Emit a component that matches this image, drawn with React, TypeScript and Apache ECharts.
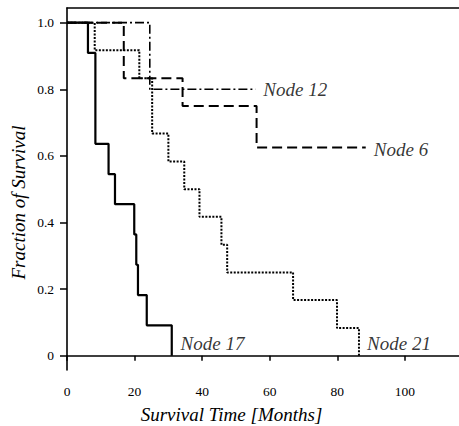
import React, { useEffect, useRef } from "react";
import * as echarts from "echarts";

const node17: [number, number][] = [
  [0, 1], [6.2, 0.909], [8.4, 0.636], [12.3, 0.545], [14.2, 0.455], [19.9, 0.364],
  [20.5, 0.273], [21.0, 0.182], [23.6, 0.091], [31.0, 0],
];
const node21: [number, number][] = [
  [0, 1], [8.2, 0.917], [21.4, 0.833], [25.2, 0.667], [30.0, 0.583], [34.7, 0.5],
  [39.2, 0.417], [45.7, 0.333], [47.4, 0.25], [66.9, 0.167], [79.9, 0.083], [86.4, 0],
];
const node12: [number, number][] = [[0, 1], [24.5, 0.8], [55.8, 0.8]];
const node6: [number, number][] = [[0, 1], [16.8, 0.833], [34.2, 0.75], [56.1, 0.625], [88.4, 0.625]];

const nodeLabels: [number, number, string][] = [
  [58.1, 0.8, "Node 12"],
  [90.8, 0.618, "Node 6"],
  [33.6, 0.038, "Node 17"],
  [88.8, 0.038, "Node 21"],
];

const xTicks = [0, 20, 40, 60, 80, 100];
const yTicks = [0, 0.2, 0.4, 0.6, 0.8, 1.0];
const xTitle = "Survival Time [Months]";
const yTitle = "Fraction of Survival";

const SERIF = "'Liberation Serif', 'Times New Roman', serif";
const INK = "#000000";

export default function App() {
  const ref = useRef<HTMLDivElement>(null);
  useEffect(() => {
    document.body.style.margin = "0";
    const chart = echarts.init(ref.current!, null, { renderer: "svg" });
    const stepSeries = (name: string, data: [number, number][], width: number, type: any) => ({
      name,
      type: "line",
      step: "end",
      data,
      symbol: "none",
      xAxisIndex: 0,
      lineStyle: { color: INK, width, type },
      z: 3,
    });
    const titleStyle = {
      fontFamily: SERIF,
      fontStyle: "italic",
      fontSize: 19,
      fill: INK,
      align: "center",
      verticalAlign: "middle",
    };
    chart.setOption({
      animation: false,
      backgroundColor: "#fff",
      grid: { left: 67, right: -9.4, top: 8, bottom: 56, containLabel: false },
      graphic: [
        { type: "text", x: 231.5, y: 414, style: { ...titleStyle, text: xTitle } },
        { type: "text", x: 18, y: 202.5, rotation: Math.PI / 2, style: { ...titleStyle, text: yTitle } },
      ],
      xAxis: [
        {
          type: "value",
          min: 0,
          max: 116,
          axisLine: { show: true, lineStyle: { color: INK, width: 1.6 } },
          axisTick: { show: true, length: 5, customValues: xTicks, lineStyle: { color: INK, width: 1.5 } },
          axisLabel: {
            customValues: xTicks,
            margin: 14,
            fontFamily: SERIF,
            fontSize: 13.5,
            color: INK,
          },
          splitLine: { show: false },
        },
        {
          type: "value",
          position: "top",
          min: 0,
          max: 116,
          axisLine: { show: true, lineStyle: { color: INK, width: 1.6 } },
          axisTick: { show: false },
          axisLabel: { show: false },
          splitLine: { show: false },
        },
      ],
      yAxis: {
        type: "value",
        min: -0.043,
        max: 1.044,
        axisLine: { show: true, lineStyle: { color: INK, width: 1.6 } },
        axisTick: { show: true, length: 7, customValues: yTicks, lineStyle: { color: INK, width: 1.5 } },
        axisLabel: {
          customValues: yTicks,
          margin: 13,
          fontFamily: SERIF,
          fontSize: 13.5,
          color: INK,
          formatter: (v: number) => (Math.abs(v) < 1e-9 ? "0" : v.toFixed(1)),
        },
        splitLine: { show: false },
      },
      series: [
        stepSeries("Node 17", node17, 2.2, "solid"),
        stepSeries("Node 21", node21, 2, [2, 1.5]),
        stepSeries("Node 12", node12, 1.6, [9, 3, 2, 3]),
        stepSeries("Node 6", node6, 2, [10, 5]),
        {
          type: "scatter",
          data: nodeLabels,
          symbolSize: 0,
          silent: true,
          label: {
            show: true,
            position: "right",
            distance: 0,
            formatter: (p: any) => p.data[2],
            fontFamily: SERIF,
            fontStyle: "italic",
            fontSize: 19,
            color: INK,
          },
          z: 5,
        },
      ],
    });
    return () => chart.dispose();
  }, []);
  return <div ref={ref} style={{ width: 459, height: 426 }} />;
}
